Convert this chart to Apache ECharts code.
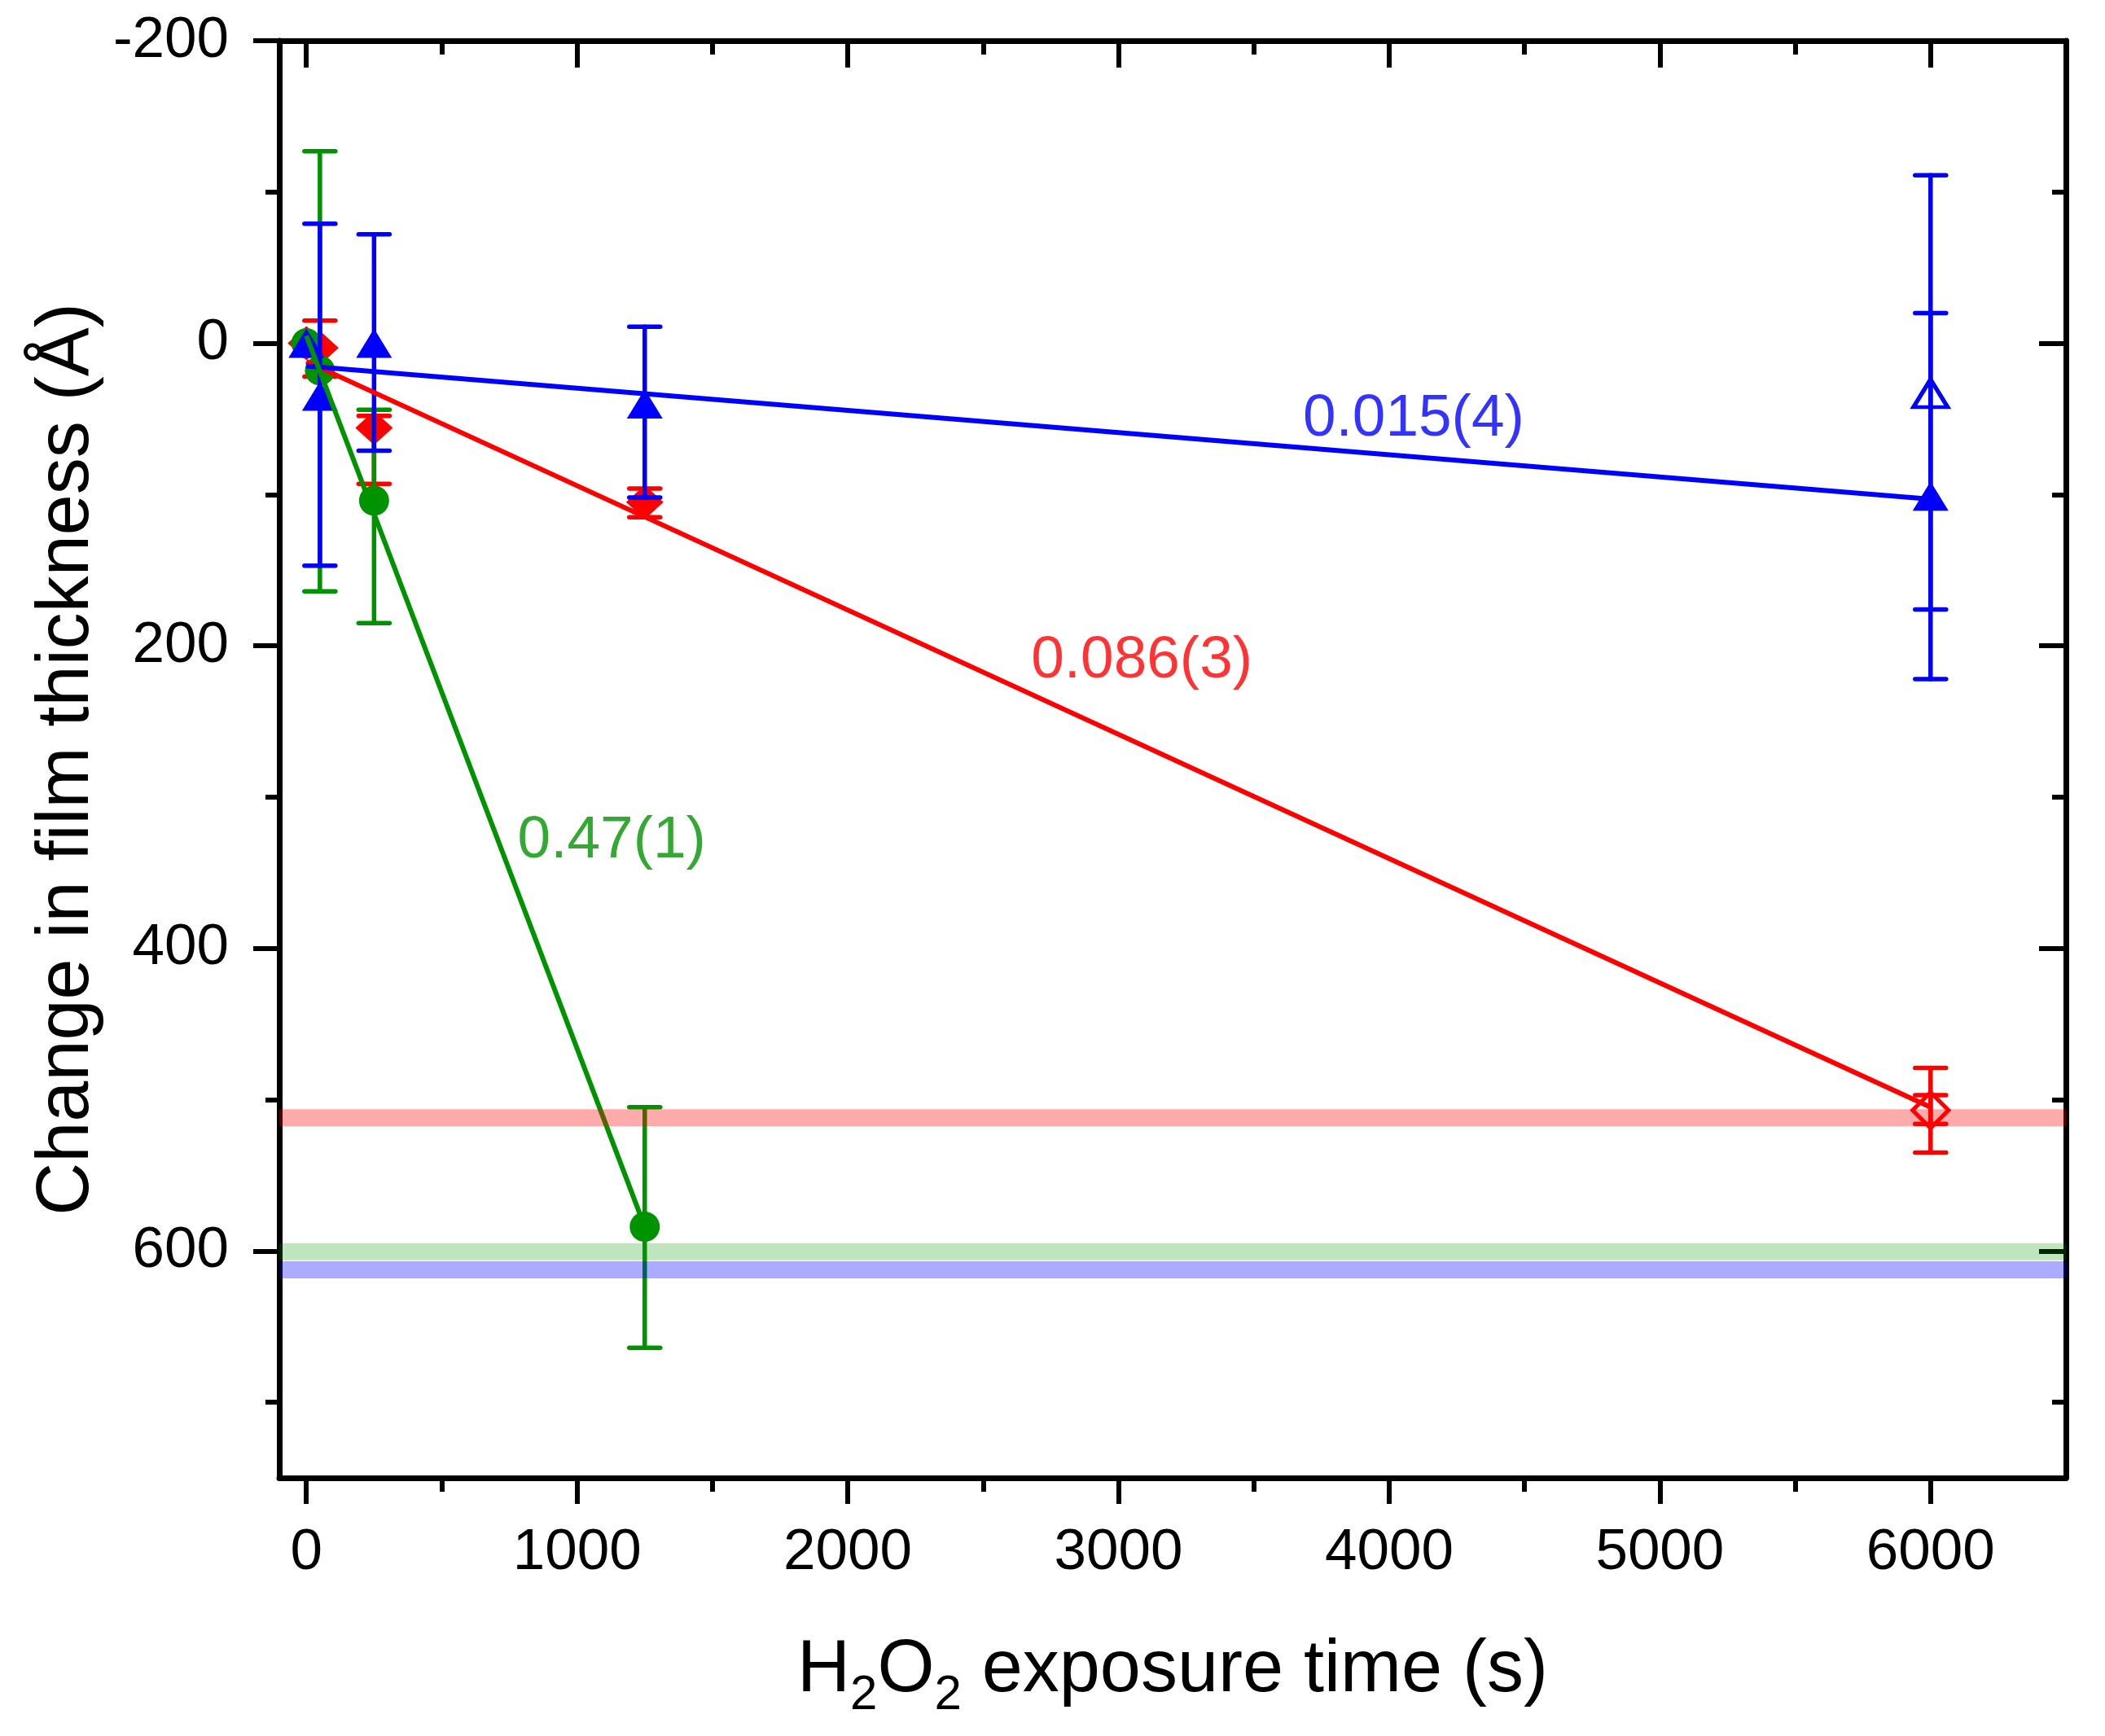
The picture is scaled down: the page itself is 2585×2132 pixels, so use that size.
<!DOCTYPE html>
<html>
<head>
<meta charset="utf-8">
<script src="https://cdn.jsdelivr.net/npm/echarts@6/dist/echarts.min.js"></script>
<style>
html,body{margin:0;padding:0;background:#fff;}
#chart{width:2585px;height:2132px;}
</style>
</head>
<body>
<div id="chart"></div>
<script>
// ---- Axis ticks ----
const xMajorTicks = [0, 1000, 2000, 3000, 4000, 5000, 6000];
const xMinorTicks = [500, 1500, 2500, 3500, 4500, 5500];
const yMajorTicks = [-200, 0, 200, 400, 600];
const yMinorTicks = [-100, 100, 300, 500, 700];

// ---- Data points: [H2O2 exposure time (s), change in thickness (Å)] ----
const redPoints      = [[0, 0], [50, 3], [250, 56], [1250, 105]];
const redOpenPoints  = [[6000, 507]];
const greenPoints    = [[0, 0], [50, 18], [250, 104], [1250, 584]];
const bluePoints     = [[0, 0], [50, 35], [250, 0], [1250, 40], [6000, 101]];
const blueOpenPoints = [[6000, 33]];

// ---- Error bars: [time, lower end, upper end] ----
const redErrors   = [[50, -15, 22], [250, 48, 93], [1250, 96, 115], [6000, 479, 535], [6000, 497, 516]];
const greenErrors = [[50, -127, 164], [250, 44, 185], [1250, 505, 664]];
const blueErrors  = [[50, -79, 147], [250, -72, 71], [1250, -11, 102], [6000, -20, 222], [6000, -111, 176]];

// ---- Linear fits (end points) ----
const redFit   = [[0, 12], [6000, 505]];
const greenFit = [[0, -5], [1250, 584]];
const blueFit  = [[0, 15], [6000, 103]];

// ---- Slope annotations: [x, y, text] ----
const blueSlope  = [4090, 50, '0.015(4)'];
const redSlope   = [3086, 210, '0.086(3)'];
const greenSlope = [1128, 329, '0.47(1)'];

// ---- Horizontal reference levels ----
const redLevel = 512;
const greenLevel = 600.5;
const blueLevel = 612.5;

const X_MIN = -100, X_MAX = 6500, Y_MIN = -200, Y_MAX = 750;
const FONT = "'Liberation Sans', Arial, sans-serif";
const RED = '#ff0000', GREEN = '#009300', BLUE = '#0000ff';

const chart = echarts.init(document.getElementById('chart'), null, {renderer: 'canvas'});

function xAxisDef(position, ticks, len, inside, showLine, extra) {
  return Object.assign({
    type: 'value', position: position, min: X_MIN, max: X_MAX,
    splitLine: {show: false},
    axisLine: {show: showLine, onZero: false, lineStyle: {color: '#000', width: 7}},
    axisTick: {show: true, inside: inside, length: len, customValues: ticks, lineStyle: {color: '#000', width: 6}},
    axisLabel: {show: false},
    minorTick: {show: false}
  }, extra || {});
}
function yAxisDef(position, ticks, len, inside, showLine, extra) {
  return Object.assign({
    type: 'value', position: position, min: Y_MIN, max: Y_MAX, inverse: true,
    splitLine: {show: false},
    axisLine: {show: showLine, onZero: false, lineStyle: {color: '#000', width: 7}},
    axisTick: {show: true, inside: inside, length: len, customValues: ticks, lineStyle: {color: '#000', width: 6}},
    axisLabel: {show: false},
    minorTick: {show: false}
  }, extra || {});
}

function errorSeries(data, color, z) {
  return {
    type: 'custom', z: z, silent: true, clip: false,
    data: data,
    encode: {x: 0, y: [1, 2]},
    renderItem: function (params, api) {
      const x = api.value(0);
      const lo = api.coord([x, api.value(1)]);
      const hi = api.coord([x, api.value(2)]);
      const hw = 19;
      const st = {stroke: color, lineWidth: 5.5, lineCap: 'round', fill: null};
      return {
        type: 'group',
        children: [
          {type: 'line', shape: {x1: lo[0], y1: lo[1], x2: hi[0], y2: hi[1]}, style: st},
          {type: 'line', shape: {x1: lo[0] - hw, y1: lo[1], x2: lo[0] + hw, y2: lo[1]}, style: st},
          {type: 'line', shape: {x1: hi[0] - hw, y1: hi[1], x2: hi[0] + hw, y2: hi[1]}, style: st}
        ]
      };
    }
  };
}

function fitSeries(data, color, z) {
  return {
    type: 'line', data: data, z: z, showSymbol: false, symbol: 'none', silent: true,
    lineStyle: {color: color, width: 6}
  };
}

function bandSeries(level, color, z) {
  return {
    type: 'line', data: [[X_MIN, level], [X_MAX, level]], z: z, showSymbol: false, symbol: 'none', silent: true,
    lineStyle: {color: color, width: 21, cap: 'butt'}
  };
}

function slopeLabel(item, color) {
  return {
    type: 'scatter', z: 30, silent: true, symbolSize: 1,
    itemStyle: {color: 'rgba(0,0,0,0)'},
    data: [[item[0], item[1]]],
    label: {show: true, position: 'inside', formatter: item[2], color: color, fontSize: 73, fontFamily: FONT}
  };
}

const option = {
  animation: false,
  backgroundColor: '#ffffff',
  grid: {left: 343, right: 48, top: 50, bottom: 317, containLabel: false, outerBoundsMode: 'none'},
  xAxis: [
    xAxisDef('bottom', xMajorTicks, 32, false, true, {
      axisLabel: {show: true, customValues: xMajorTicks, fontSize: 71, color: '#000', fontFamily: FONT, margin: 57,
        formatter: function (v) { return String(v); }},
      name: '{a|H}{b|2}{a|O}{b|2}{a| exposure time (s)}',
      nameLocation: 'middle', nameGap: 177,
      nameTextStyle: {
        color: '#000', fontFamily: FONT, fontSize: 90,
        rich: {
          a: {fontSize: 90, lineHeight: 120, fontFamily: FONT, color: '#000'},
          b: {fontSize: 60, lineHeight: 56, verticalAlign: 'bottom', fontFamily: FONT, color: '#000'}
        }
      }
    }),
    xAxisDef('bottom', xMinorTicks, 17, false, false),
    xAxisDef('top', xMajorTicks, 33, true, true),
    xAxisDef('top', xMinorTicks, 17, true, false)
  ],
  yAxis: [
    yAxisDef('left', yMajorTicks, 32, false, true, {
      axisLabel: {show: true, customValues: yMajorTicks, fontSize: 71, color: '#000', fontFamily: FONT, margin: 62,
        formatter: function (v) { return String(v); }},
      name: 'Change in film thickness (Å)',
      nameLocation: 'middle', nameRotate: 90, nameGap: 213,
      nameTextStyle: {color: '#000', fontFamily: FONT, fontSize: 90}
    }),
    yAxisDef('left', yMinorTicks, 17, false, false),
    yAxisDef('right', yMajorTicks, 33, true, true),
    yAxisDef('right', yMinorTicks, 17, true, false)
  ],
  series: [
    errorSeries(redErrors, RED, 2),
    {type: 'scatter', data: redPoints, z: 3, symbol: 'diamond', symbolSize: [46, 42], itemStyle: {color: RED, opacity: 1}, silent: true},
    {type: 'scatter', data: redOpenPoints, z: 3, symbol: 'diamond', symbolSize: [44, 44], itemStyle: {color: 'rgba(0,0,0,0)', borderColor: RED, borderWidth: 5, opacity: 1}, silent: true},
    errorSeries(greenErrors, GREEN, 4),
    {type: 'scatter', data: greenPoints, z: 5, symbol: 'circle', symbolSize: 37, itemStyle: {color: GREEN, opacity: 1}, silent: true},
    errorSeries(blueErrors, BLUE, 6),
    {type: 'scatter', data: bluePoints, z: 7, symbol: 'triangle', symbolSize: [44, 36], itemStyle: {color: BLUE, opacity: 1}, silent: true},
    {type: 'scatter', data: blueOpenPoints, z: 7, symbol: 'triangle', symbolSize: [42, 34], itemStyle: {color: 'rgba(0,0,0,0)', borderColor: BLUE, borderWidth: 5, opacity: 1}, silent: true},
    fitSeries(redFit, RED, 8),
    fitSeries(blueFit, BLUE, 9),
    fitSeries(greenFit, GREEN, 10),
    bandSeries(redLevel, 'rgba(255,0,0,0.33)', 11),
    bandSeries(greenLevel, 'rgba(0,150,0,0.25)', 11),
    bandSeries(blueLevel, 'rgba(0,0,255,0.33)', 11),
    slopeLabel(blueSlope, BLUE),
    slopeLabel(redSlope, RED),
    slopeLabel(greenSlope, GREEN)
  ]
};

chart.setOption(option);
</script>
</body>
</html>
